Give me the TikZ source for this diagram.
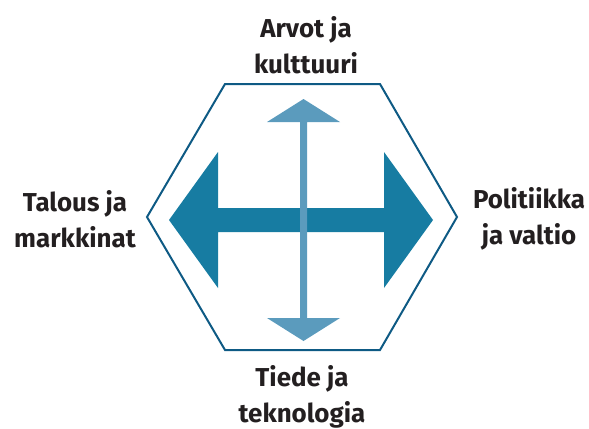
\documentclass[tikz,border=0pt]{standalone}
\usepackage{fontspec}
\setmainfont{Fira Sans}
\usepackage{tikz}
\definecolor{blue2}{HTML}{0e5a84}
\definecolor{blue4}{HTML}{177ca2}
\definecolor{blue6}{HTML}{5b9bbd}
\definecolor{ink}{HTML}{231f20}

\begin{document}
\begin{tikzpicture}[x=1bp, y=-1bp, align=center,
  lbl/.style={anchor=base, text=ink, font=\fontsize{26}{36}\selectfont\bfseries}]
\useasboundingbox (0,0) rectangle (589,428);
\draw[blue2, line width=2bp] (225,84) -- (380,84) -- (457,217) -- (380,350) -- (225,350) -- (147,217) -- cycle;
\fill[blue4] (169,220) -- (218,152) -- (218,208) -- (384,208) -- (384,152) -- (433,220)
  -- (384,288) -- (384,232) -- (218,232) -- (218,288) -- cycle;
\fill[blue6] (303.5,99) -- (340,122) -- (307,122) -- (307,318) -- (340,318) -- (303.5,341)
  -- (267,318) -- (300,318) -- (300,122) -- (267,122) -- cycle;
\node[lbl] (arvot) at (306,73) {Arvot ja\\kulttuuri};
\node[lbl] (talous) at (75,247) {Talous ja\\markkinat};
\node[lbl] (politiikka) at (529,244) {Politiikka\\ja valtio};
\node[lbl] (tiede) at (302,422) {Tiede ja\\teknologia};
\end{tikzpicture}
\end{document}
